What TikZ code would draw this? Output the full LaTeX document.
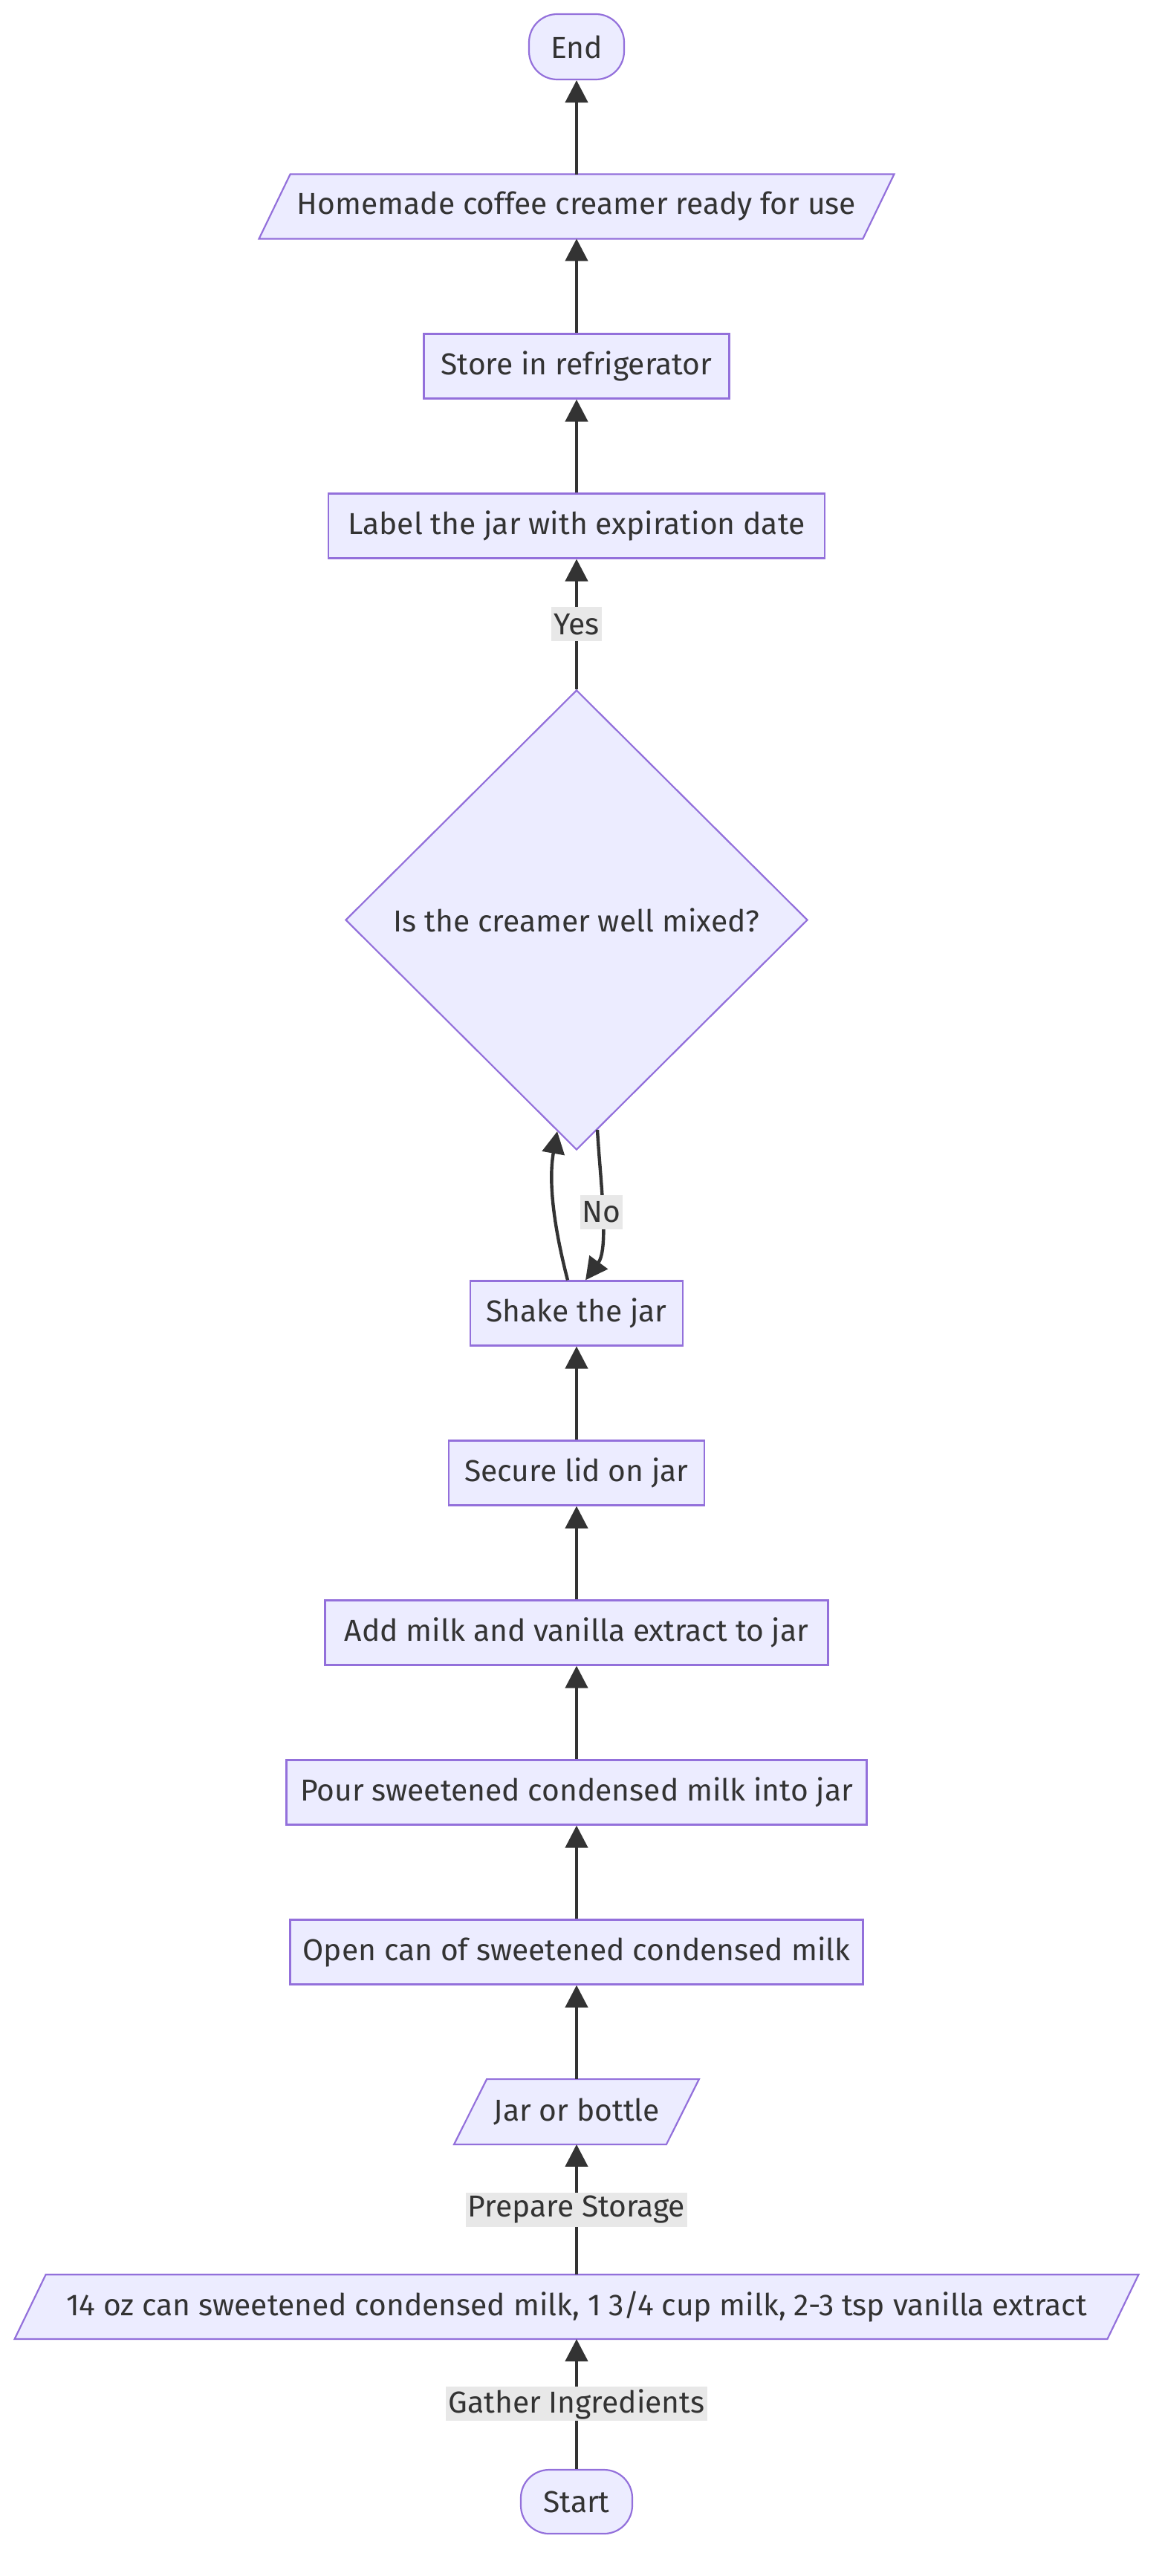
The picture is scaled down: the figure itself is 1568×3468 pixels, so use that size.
\documentclass[tikz,border=0pt]{standalone}
\usepackage{fontspec}
\setmainfont{Fira Sans}
\usetikzlibrary{arrows.meta,shapes.geometric,calc,backgrounds}
\definecolor{nodefill}{HTML}{ECECFF}
\definecolor{nodeborder}{HTML}{9370DB}
\definecolor{edgecol}{HTML}{333333}
\definecolor{labelbg}{HTML}{E8E8E8}
\definecolor{txt}{HTML}{333333}
\tikzset{
  base/.style={font=\fontsize{20.4}{24}\selectfont, text=txt, inner sep=0pt, minimum height=43.5pt},
  box/.style={base, rectangle, draw=nodeborder, fill=nodefill, line width=1.1pt},
  term/.style={box, rounded corners=19pt},
  io/.style={base, rectangle},
  iobg/.style={draw=nodeborder, fill=nodefill, line width=1.1pt, line join=miter},
  decision/.style={base, diamond, draw=nodeborder, fill=nodefill, line width=1.1pt, aspect=1, minimum width=311pt, minimum height=309.5pt},
  edge/.style={draw=edgecol, line width=2.2pt, -{Triangle[length=15pt,width=15pt]}},
  elabel/.style={font=\fontsize{20.4}{24}\selectfont, text=txt, fill=labelbg, inner xsep=1.5pt, inner ysep=0pt, minimum height=23pt},
}
\newcommand\iopoly[2]{%
  \begin{pgfonlayer}{background}
    \path[iobg] ($(#1.south west)+(-#2,0)$) -- ($(#1.south east)+(-#2,0)$) -- ($(#1.north east)+(#2,0)$) -- ($(#1.north west)+(#2,0)$) -- cycle;
  \end{pgfonlayer}}
\begin{document}
\begin{tikzpicture}[x=0.5pt,y=-0.5pt]
  \useasboundingbox (0,0) rectangle (1568,3468);
  % nodes
  \node[term, minimum width=64pt, minimum height=44pt] (endn) at (776,63) {End};
  \node[io, minimum width=406pt, minimum height=43pt] (ready) at (776,278) {Homemade coffee creamer ready for use};
  \iopoly{ready}{21}
  \node[box, minimum width=205.5pt] (store) at (776,493) {Store in refrigerator};
  \node[box, minimum width=334pt] (label) at (776,708) {Label the jar with expiration date};
  \node[decision] (mixed) at (776,1238.5) {Is the creamer well mixed?};
  \node[box, minimum width=143pt] (shake) at (776,1768) {Shake the jar};
  \node[box, minimum width=172pt] (secure) at (776,1983) {Secure lid on jar};
  \node[box, minimum width=338.5pt] (addmilk) at (776,2198) {Add milk and vanilla extract to jar};
  \node[box, minimum width=390.5pt] (pour) at (776,2413) {Pour sweetened condensed milk into jar};
  \node[box, minimum width=385.5pt] (opencan) at (776,2628) {Open can of sweetened condensed milk};
  \node[io, minimum width=142.5pt] (jar) at (776,2843) {Jar or bottle};
  \iopoly{jar}{22}
  \node[io, minimum width=735pt, minimum height=43pt] (ingr) at (776,3105.6) {14 oz can sweetened condensed milk, 1 3/4 cup milk, 2-3 tsp vanilla extract};
  \iopoly{ingr}{21}
  \node[term, minimum width=75pt, minimum height=43pt] (start) at (776,3368) {Start};
  % edges
  \draw[edge] (start) -- node[elabel]{Gather Ingredients} (ingr);
  \draw[edge] (ingr) -- node[elabel]{Prepare Storage} (jar);
  \draw[edge] (jar) -- (opencan);
  \draw[edge] (opencan) -- (pour);
  \draw[edge] (pour) -- (addmilk);
  \draw[edge] (addmilk) -- (secure);
  \draw[edge] (secure) -- (shake);
  \draw[edge] ($(shake.north)+(-12,0)$) .. controls (745,1650) and (738,1590) .. ($(mixed.south)+(-26,-26)$);
  \draw[edge] ($(mixed.south)+(28,-28)$) .. controls (808,1590) and (820,1680) .. node[elabel, pos=0.5]{No} ($(shake.north)+(12,0)$);
  \draw[edge] (mixed) -- node[elabel]{Yes} (label);
  \draw[edge] (label) -- (store);
  \draw[edge] (store) -- (ready);
  \draw[edge] (ready) -- (endn);
\end{tikzpicture}
\end{document}
